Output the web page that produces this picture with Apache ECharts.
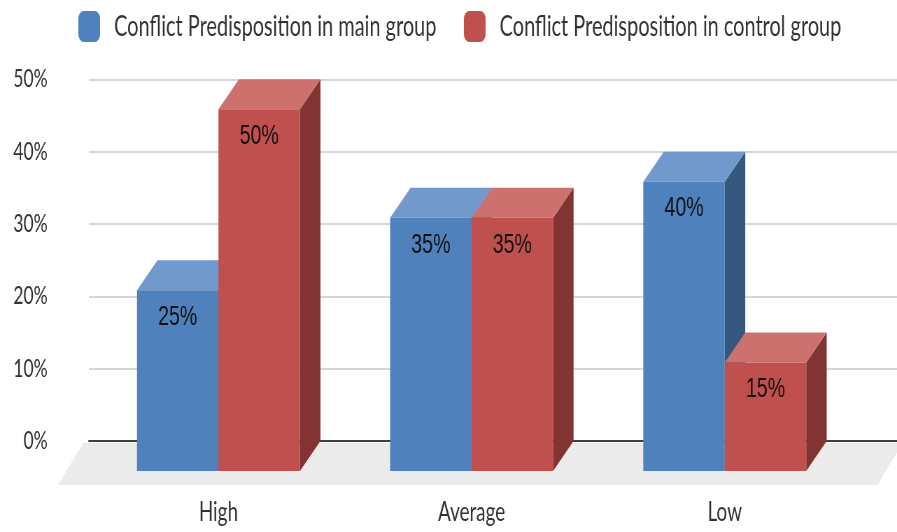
<!DOCTYPE html>
<html>
<head>
<meta charset="utf-8">
<title>Conflict Predisposition</title>
<script src="https://cdn.jsdelivr.net/npm/echarts@6/dist/echarts.min.js"></script>
<style>
  html, body { margin: 0; padding: 0; background: #fff; overflow: hidden; }
  /* the source picture is squeezed sideways, so lay the chart out wide and squeeze it in x */
  .chart { width: 1282px; height: 532px; transform: scaleX(0.69969); transform-origin: 0 0; }
</style>
</head>
<body>
<div class="chart" id="chart"></div>
<script>
const categories = ["High", "Average", "Low"];
const mainGroup = [25, 35, 40];
const controlGroup = [50, 35, 15];
const seriesNames = ["Conflict Predisposition in main group", "Conflict Predisposition in control group"];
const yTicks = [0, 10, 20, 30, 40, 50];

const S = 897 / 1282;          // horizontal squeeze
const DX = 20.5 / S, DY = 30;  // depth of the boxes
const BAR = 0.3218;            // bar width as part of a category band

const blue = { front: "#4f81bd", top: "#7199cc", side: "#36587f" };
const red = { front: "#c0504d", top: "#cd716f", side: "#823432" };

let box = (col, slot) => (params, api) => {
  const cat = api.value(0);
  const val = api.value(1);
  const w = api.size([1, 0])[0] * BAR;
  const p = api.coord([cat, val]);
  const p0 = api.coord([cat, 0]);
  const xl = p[0] - w + slot * w;
  const xr = xl + w;
  const yt = p[1] + DY;
  const yb = p0[1] + DY;
  return {
    type: "group",
    children: [
      {
        type: "polygon",
        shape: { points: [[xr, yt], [xr + DX, p[1]], [xr + DX, p0[1]], [xr, yb]] },
        style: { fill: col.side }
      },
      {
        type: "polygon",
        shape: { points: [[xl, yt], [xr, yt], [xr + DX, p[1]], [xl + DX, p[1]]] },
        style: { fill: col.top }
      },
      {
        type: "rect",
        shape: { x: xl, y: yt, width: w, height: yb - yt },
        style: { fill: col.front }
      },
      {
        type: "text",
        x: (xl + xr) / 2,
        y: yt + 27,
        style: {
          text: val + "%",
          fontFamily: "Liberation Sans",
          fontSize: 28,
          fill: "#111",
          align: "center",
          verticalAlign: "middle"
        }
      }
    ]
  };
};

let legendText = { fontFamily: "Lato", fontSize: 28.5, color: "#333", padding: [0, 0, 0, 15] };

let mychart = echarts.init(document.getElementById("chart"));
let option = {
  animation: false,
  legend: [
    {
      data: [seriesNames[0]],
      left: 112,
      top: 11,
      padding: 0,
      itemWidth: 31,
      itemHeight: 31,
      icon: "roundRect",
      textStyle: legendText
    },
    {
      data: [seriesNames[1]],
      left: 663,
      top: 11,
      padding: 0,
      itemWidth: 31,
      itemHeight: 31,
      icon: "roundRect",
      textStyle: legendText
    }
  ],
  graphic: [
    {
      // grey floor under the bars
      type: "polygon",
      z: 0,
      shape: { points: [[83, 485], [1254, 485], [1290, 443], [119, 443]] },
      style: { fill: "#ebebeb" }
    }
  ],
  grid: [
    { left: 127, top: 79.3, width: 1170, height: 361.7 },
    { left: 131.3, top: 79.3, width: 1085.4, height: 361.7 }
  ],
  xAxis: [
    {
      gridIndex: 0,
      type: "value",
      z: 3,
      axisLabel: { show: false },
      axisTick: { show: false },
      splitLine: { show: false },
      axisLine: { show: true, lineStyle: { color: "#3f3f3f", width: 2 } }
    },
    {
      gridIndex: 1,
      type: "category",
      data: categories,
      axisLine: { show: false },
      axisTick: { show: false },
      axisLabel: { margin: 58, fontFamily: "Lato", fontSize: 27, color: "#333" }
    }
  ],
  yAxis: [
    {
      gridIndex: 0,
      type: "value",
      min: yTicks[0],
      max: yTicks[yTicks.length - 1],
      interval: 10,
      axisLine: { show: false },
      axisTick: { show: false },
      axisLabel: { margin: 59, fontFamily: "Lato", fontSize: 25, color: "#333", formatter: "{value}%" },
      splitLine: { lineStyle: { color: "#d6d6d6", width: 2 } }
    },
    {
      gridIndex: 1,
      type: "value",
      min: yTicks[0],
      max: yTicks[yTicks.length - 1],
      interval: 10,
      show: false
    }
  ],
  series: [
    {
      name: seriesNames[0],
      type: "custom",
      xAxisIndex: 1,
      yAxisIndex: 1,
      z: 10,
      itemStyle: { color: blue.front },
      renderItem: box(blue, 0),
      encode: { x: 0, y: 1 },
      data: categories.map((c, i) => [i, mainGroup[i]])
    },
    {
      name: seriesNames[1],
      type: "custom",
      xAxisIndex: 1,
      yAxisIndex: 1,
      z: 10,
      itemStyle: { color: red.front },
      renderItem: box(red, 1),
      encode: { x: 0, y: 1 },
      data: categories.map((c, i) => [i, controlGroup[i]])
    }
  ]
};
mychart.setOption(option, true);
</script>
</body>
</html>
